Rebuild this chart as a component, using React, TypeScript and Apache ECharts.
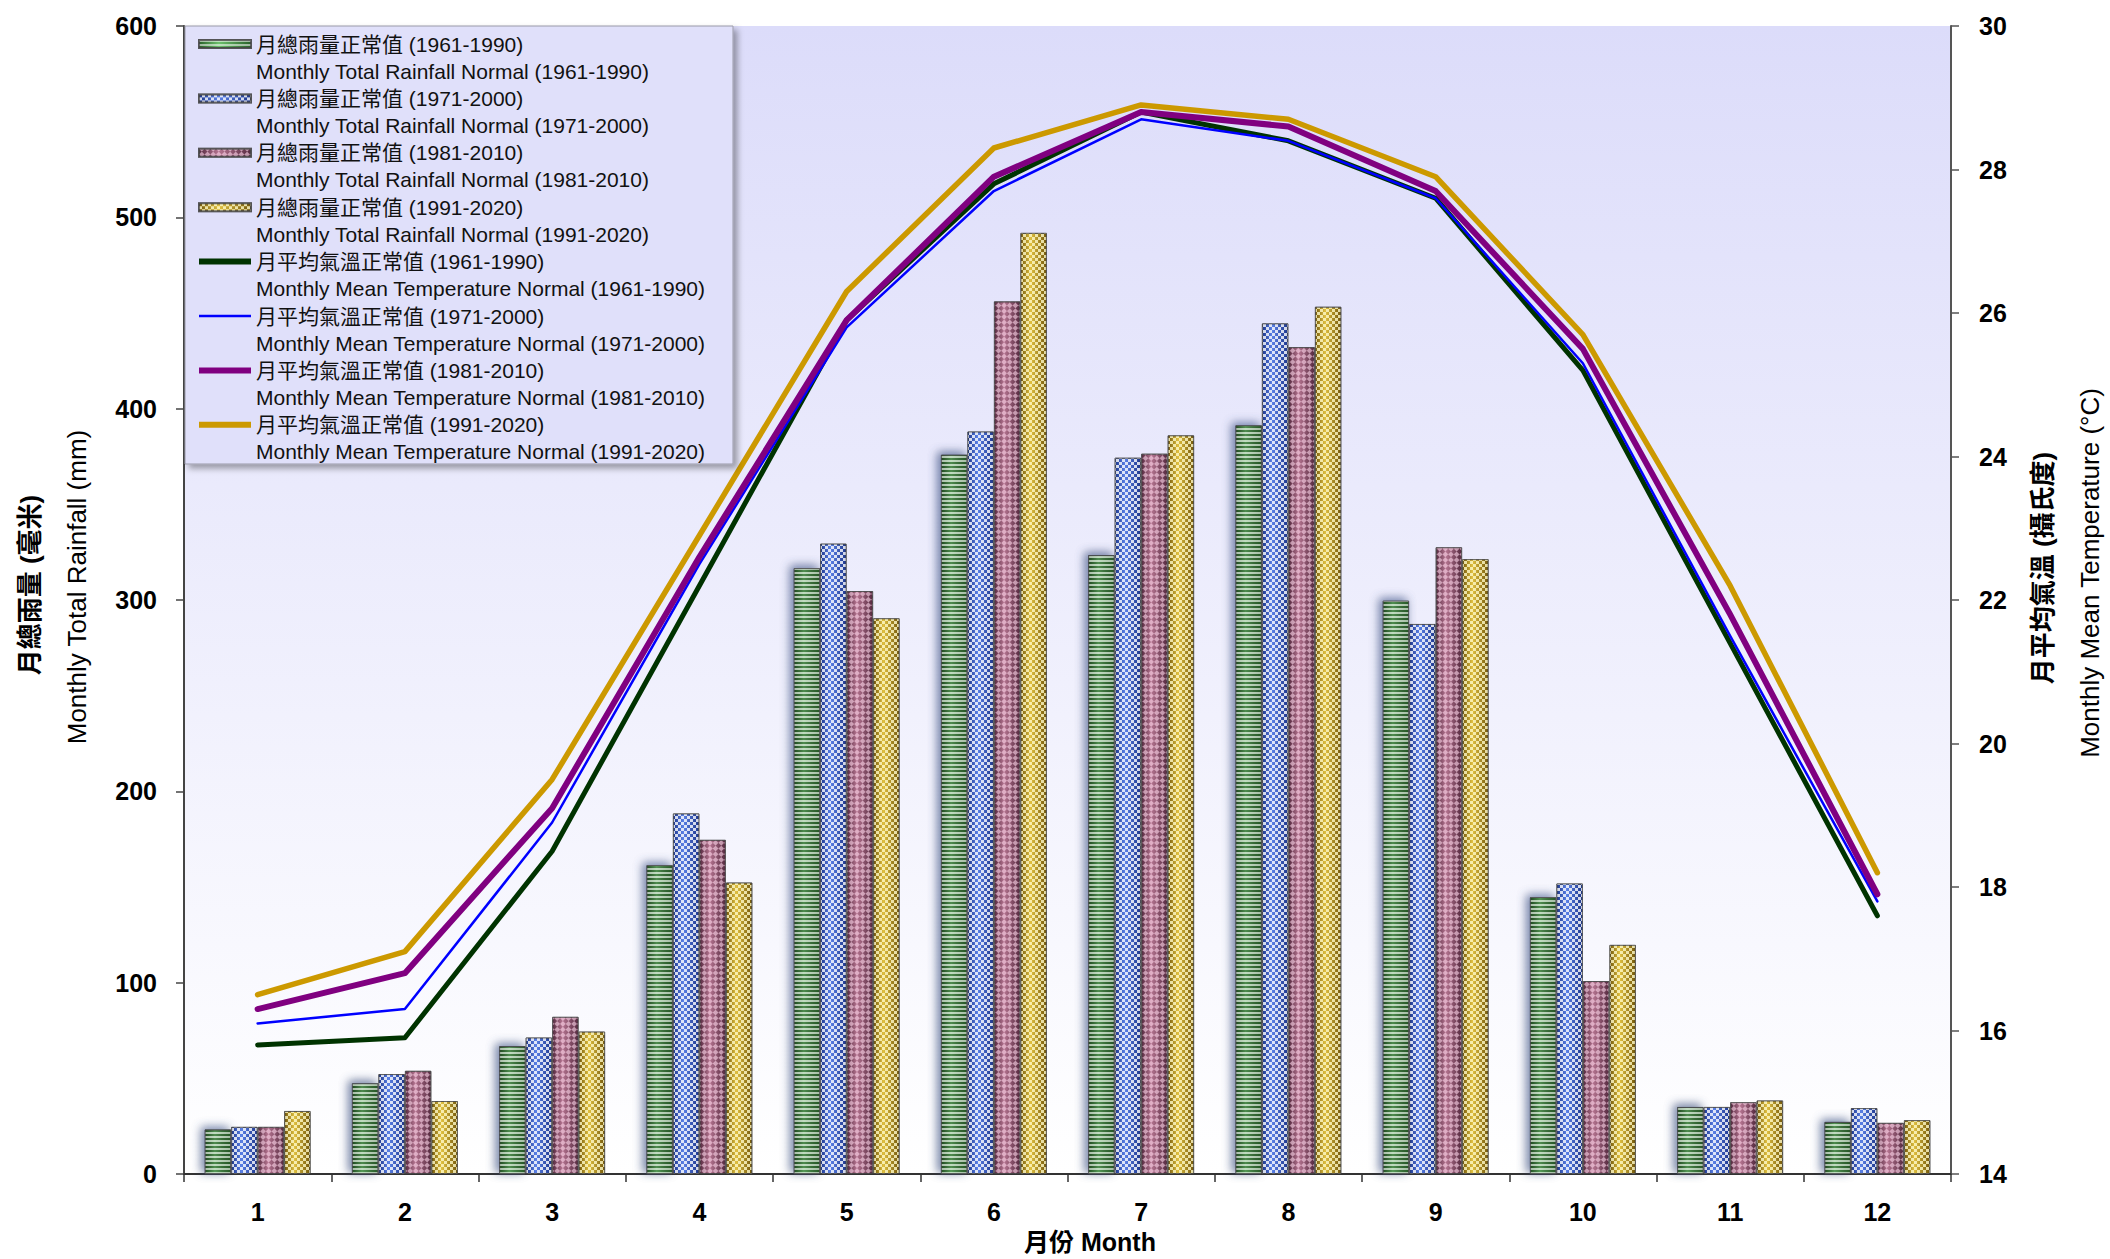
import React, { useEffect, useRef } from 'react';
import * as echarts from 'echarts';

const months = ['1', '2', '3', '4', '5', '6', '7', '8', '9', '10', '11', '12'];

const rain6190 = [23.4, 47.5, 66.9, 161.5, 316.7, 376.0, 323.5, 391.4, 299.7, 144.8, 35.1, 27.3];
const rain7100 = [24.7, 52.3, 71.4, 188.5, 329.5, 388.1, 374.4, 444.6, 287.5, 151.9, 35.1, 34.5];
const rain8110 = [24.7, 54.0, 82.2, 174.7, 304.7, 456.1, 376.5, 432.2, 327.6, 100.9, 37.6, 26.8];
const rain9120 = [33.0, 38.2, 74.5, 152.4, 290.5, 491.9, 386.1, 453.3, 321.4, 119.8, 38.5, 28.2];

const temp6190 = [15.8, 15.9, 18.5, 22.2, 25.9, 27.8, 28.8, 28.4, 27.6, 25.2, 21.4, 17.6];
const temp7100 = [16.1, 16.3, 18.9, 22.5, 25.8, 27.7, 28.7, 28.4, 27.6, 25.3, 21.5, 17.8];
const temp8110 = [16.3, 16.8, 19.1, 22.6, 25.9, 27.9, 28.8, 28.6, 27.7, 25.5, 21.8, 17.9];
const temp9120 = [16.5, 17.1, 19.5, 22.9, 26.3, 28.3, 28.9, 28.7, 27.9, 25.7, 22.2, 18.2];

const rainTicks = { min: 0, max: 600, interval: 100 };
const tempTicks = { min: 14, max: 30, interval: 2 };

const legendText: Record<string, string> = {
  r6190: '月總雨量正常值 (1961-1990)\nMonthly Total Rainfall Normal (1961-1990)',
  r7100: '月總雨量正常值 (1971-2000)\nMonthly Total Rainfall Normal (1971-2000)',
  r8110: '月總雨量正常值 (1981-2010)\nMonthly Total Rainfall Normal (1981-2010)',
  r9120: '月總雨量正常值 (1991-2020)\nMonthly Total Rainfall Normal (1991-2020)',
  t6190: '月平均氣溫正常值 (1961-1990)\nMonthly Mean Temperature Normal (1961-1990)',
  t7100: '月平均氣溫正常值 (1971-2000)\nMonthly Mean Temperature Normal (1971-2000)',
  t8110: '月平均氣溫正常值 (1981-2010)\nMonthly Mean Temperature Normal (1981-2010)',
  t9120: '月平均氣溫正常值 (1991-2020)\nMonthly Mean Temperature Normal (1991-2020)',
};

const FONT = '"Liberation Sans", Arial, "Noto Sans CJK TC", sans-serif';

function cyl(dark: string, mid: string) {
  return new echarts.graphic.LinearGradient(0, 0, 1, 0, [
    { offset: 0, color: dark },
    { offset: 0.38, color: mid },
    { offset: 1, color: dark },
  ]);
}

function barSeries(name: string, data: number[], dark: string, mid: string, decal: any, glow: boolean) {
  return {
    name,
    type: 'bar',
    yAxisIndex: 0,
    data,
    barGap: '0%',
    barCategoryGap: '28%',
    itemStyle: {
      color: cyl(dark, mid),
      borderColor: 'rgba(70,70,70,0.7)',
      borderWidth: 1,
      decal,
      ...(glow
        ? { shadowColor: 'rgba(90,130,230,0.5)', shadowBlur: 10, shadowOffsetX: -3, shadowOffsetY: -2 }
        : {}),
    },
    z: 2,
  };
}

function lineSeries(name: string, data: number[], color: string, width: number) {
  return {
    name,
    type: 'line',
    yAxisIndex: 1,
    data,
    symbol: 'none',
    lineStyle: { color, width, cap: 'round', join: 'round' },
    itemStyle: { color },
    z: 3,
  };
}

const checker = (color: string, s: number) => ({
  symbol: 'rect',
  symbolSize: 1,
  color,
  dashArrayX: [[s, s], [0, s, s, 0]],
  dashArrayY: [s, 0],
});

export default function App() {
  const ref = useRef<HTMLDivElement>(null);
  useEffect(() => {
    const chart = echarts.init(ref.current!, null, { renderer: 'svg' });
    const lineLegend = (name: string, color: string, width: number) => ({
      name,
      icon: `path://M0,0 L52,0 L52,${width} L0,${width} Z`,
      itemStyle: { color },
    });
    const option: any = {
      animation: false,
      backgroundColor: '#ffffff',
      grid: {
        left: 184,
        right: 159,
        top: 26,
        bottom: 77,
        show: true,
        borderWidth: 0,
        backgroundColor: new echarts.graphic.LinearGradient(0, 0, 0, 1, [
          { offset: 0, color: '#dcdcfa' },
          { offset: 1, color: '#ffffff' },
        ]),
      },
      legend: {
        orient: 'vertical',
        left: 198,
        top: 3.2,
        padding: 0,
        itemGap: -27.2,
        itemWidth: 52,
        itemHeight: 8,
        selectedMode: false,
        symbolKeepAspect: true,
        z: 5,
        data: [
          { name: 'r6190', icon: 'rect' },
          { name: 'r7100', icon: 'rect' },
          { name: 'r8110', icon: 'rect' },
          { name: 'r9120', icon: 'rect' },
          lineLegend('t6190', '#003300', 6),
          lineLegend('t7100', '#0000ff', 2.5),
          lineLegend('t8110', '#800080', 6),
          lineLegend('t9120', '#cc9900', 6),
        ],
        formatter: (n: string) => ' \n' + legendText[n],
        textStyle: {
          fontFamily: FONT,
          fontSize: 21,
          color: '#111',
          lineHeight: 27.2,
        },
      },
      xAxis: {
        type: 'category',
        data: months,
        axisLine: { lineStyle: { color: '#333', width: 2 } },
        axisTick: { show: true, length: 8, lineStyle: { color: '#333', width: 1.5 } },
        axisLabel: { fontFamily: FONT, fontSize: 25, fontWeight: 'bold', color: '#000', margin: 25 },
        name: '月份 Month',
        nameLocation: 'middle',
        nameGap: 51,
        nameTextStyle: {
          fontFamily: FONT,
          fontSize: 25,
          fontWeight: 'bold',
          color: '#000',
          padding: [0, 0, 0, 45],
        },
      },
      yAxis: [
        {
          type: 'value',
          position: 'left',
          min: rainTicks.min,
          max: rainTicks.max,
          interval: rainTicks.interval,
          axisLine: { show: true, lineStyle: { color: '#444', width: 2 } },
          axisTick: { show: true, length: 8, lineStyle: { color: '#444', width: 1.5 } },
          axisLabel: { fontFamily: FONT, fontSize: 25, fontWeight: 'bold', color: '#000', margin: 27 },
          splitLine: { show: false },
        },
        {
          type: 'value',
          position: 'right',
          min: tempTicks.min,
          max: tempTicks.max,
          interval: tempTicks.interval,
          axisLine: { show: true, lineStyle: { color: '#555', width: 2 } },
          axisTick: { show: true, length: 8, lineStyle: { color: '#555', width: 1.5 } },
          axisLabel: { fontFamily: FONT, fontSize: 25, fontWeight: 'bold', color: '#000', margin: 28 },
          splitLine: { show: false },
        },
      ],
      graphic: [
        {
          type: 'rect',
          z: 4,
          shape: { x: 185, y: 26, width: 548, height: 438 },
          style: {
            fill: '#e0e0fa',
            stroke: '#9a9aa8',
            lineWidth: 1,
            shadowColor: 'rgba(0,0,0,0.35)',
            shadowBlur: 6,
            shadowOffsetX: 4,
            shadowOffsetY: 4,
          },
        },
        {
          type: 'text',
          x: 30,
          y: 585,
          rotation: Math.PI / 2,
          style: {
            text: '月總雨量 (毫米)',
            font: `bold 26px ${FONT}`,
            fill: '#000',
            align: 'center',
            verticalAlign: 'middle',
          },
        },
        {
          type: 'text',
          x: 77,
          y: 587,
          rotation: Math.PI / 2,
          style: {
            text: 'Monthly Total Rainfall (mm)',
            font: `26px ${FONT}`,
            fill: '#000',
            align: 'center',
            verticalAlign: 'middle',
          },
        },
        {
          type: 'text',
          x: 2043,
          y: 568,
          rotation: Math.PI / 2,
          style: {
            text: '月平均氣溫 (攝氏度)',
            font: `bold 26px ${FONT}`,
            fill: '#000',
            align: 'center',
            verticalAlign: 'middle',
          },
        },
        {
          type: 'text',
          x: 2090,
          y: 573,
          rotation: Math.PI / 2,
          style: {
            text: 'Monthly Mean Temperature (°C)',
            font: `26px ${FONT}`,
            fill: '#000',
            align: 'center',
            verticalAlign: 'middle',
          },
        },
      ],
      series: [
        barSeries('r6190', rain6190, '#2a622a', '#6cc06c', {
          symbol: 'rect',
          symbolSize: 1,
          color: 'rgba(255,255,255,0.55)',
          dashArrayX: [1, 0],
          dashArrayY: [2, 2],
        }, true),
        barSeries('r7100', rain7100, '#1d368c', '#5a80e6', checker('rgba(255,255,255,0.8)', 3), false),
        barSeries('r8110', rain8110, '#562a40', '#b47490', {
          ...checker('rgba(255,215,235,0.6)', 4),
          rotation: Math.PI / 4,
        }, false),
        barSeries('r9120', rain9120, '#74580a', '#e0c040', checker('rgba(255,250,200,0.8)', 3), false),
        lineSeries('t6190', temp6190, '#003300', 5),
        lineSeries('t7100', temp7100, '#0000ff', 2.5),
        lineSeries('t8110', temp8110, '#800080', 6),
        lineSeries('t9120', temp9120, '#cc9900', 5.5),
      ],
    };
    chart.setOption(option);
    return () => chart.dispose();
  }, []);
  return (
    <div
      ref={ref}
      style={{ position: 'fixed', left: 0, top: 0, width: 2110, height: 1259, background: '#fff' }}
    />
  );
}
